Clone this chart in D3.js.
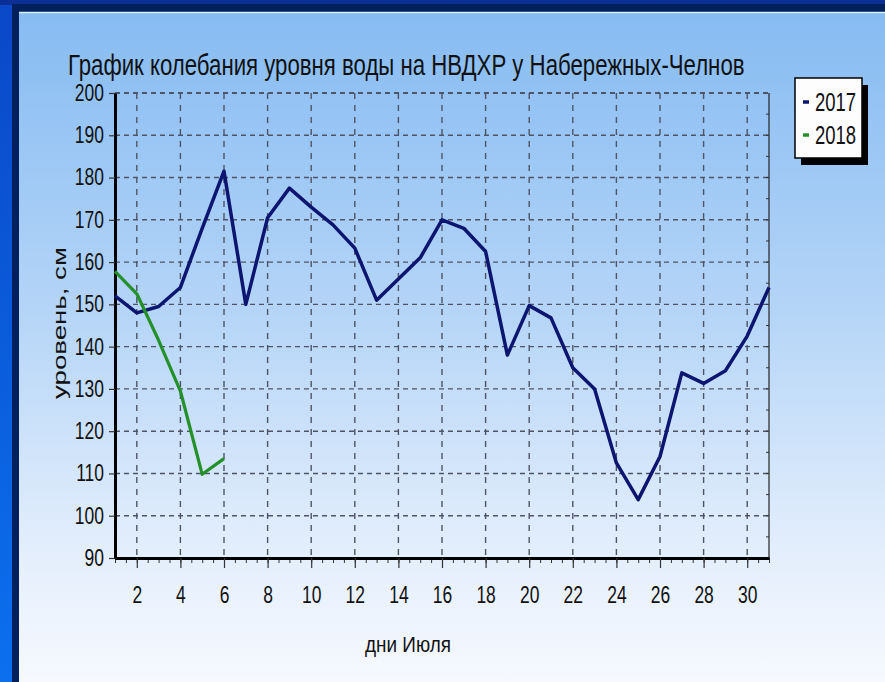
<!DOCTYPE html>
<html>
<head>
<meta charset="utf-8">
<script src="https://cdn.jsdelivr.net/npm/d3@7"></script>
<style>
  body { margin: 0; background: #0a50d2; }
  svg { display: block; }
  text { font-family: 'Liberation Sans', Arial, sans-serif; fill: #111; }
</style>
</head>
<body>
<div id="vis"></div>
<script>
// data
var days = d3.range(1, 32);
var level2017 = [152, 148, 149.5, 154, 168, 181.5, 150, 170.5, 177.5, 173, 168.8, 163.3,
  151, 156, 161, 170, 168, 162.5, 138, 149.7, 146.8, 135, 130, 112.5, 103.8, 114,
  133.8, 131.3, 134.3, 142.5, 154];
var days2018 = [1, 2, 3, 4, 5, 6];
var level2018 = [157.8, 152.5, 141.5, 129.5, 109.8, 113.5];
var seriesNames = ['2017', '2018'];
var yTicks = [90, 100, 110, 120, 130, 140, 150, 160, 170, 180, 190, 200];
var xTicks = [2, 4, 6, 8, 10, 12, 14, 16, 18, 20, 22, 24, 26, 28, 30];

var width = 885;
var height = 682;
var sx = 0.76; // the picture is squeezed sideways, so is its text
var colors = { '2017': '#0c1670', '2018': '#23902a' };

var svg = d3.select('#vis').append('svg')
  .attr('width', width)
  .attr('height', height);

var defs = svg.append('defs');
var grad = defs.append('linearGradient')
  .attr('id', 'panelGrad')
  .attr('x1', 0).attr('y1', 0).attr('x2', 0).attr('y2', 1);
grad.append('stop').attr('offset', '0%').attr('stop-color', '#86bbf2');
grad.append('stop').attr('offset', '45%').attr('stop-color', '#b5d5f7');
grad.append('stop').attr('offset', '80%').attr('stop-color', '#e3eefc');
grad.append('stop').attr('offset', '100%').attr('stop-color', '#f6f9ff');

var side = defs.append('linearGradient')
  .attr('id', 'sideGrad')
  .attr('x1', 0).attr('y1', 0).attr('x2', 0).attr('y2', 1);
side.append('stop').attr('offset', '0%').attr('stop-color', '#0a48c8');
side.append('stop').attr('offset', '100%').attr('stop-color', '#0b70ee');

// slide frame
svg.append('rect').attr('width', width).attr('height', height).attr('fill', 'url(#sideGrad)');
svg.append('rect').attr('x', 0).attr('y', 0).attr('width', width).attr('height', 5).attr('fill', '#0b2f95');
svg.append('rect').attr('x', 12).attr('y', 4).attr('width', width - 12).attr('height', height - 4).attr('fill', '#03205e');
svg.append('rect').attr('x', 19).attr('y', 12).attr('width', width - 19).attr('height', height - 12).attr('fill', 'url(#panelGrad)');
svg.append('line').attr('x1', 19).attr('x2', width).attr('y1', 12.5).attr('y2', 12.5)
  .attr('stroke', '#d8f0ff').attr('stroke-width', 1.5);

var x = d3.scaleLinear().domain([1, 31]).range([115, 769]);
var y = d3.scaleLinear().domain([90, 200]).range([558, 93]);

// squeeze a text sideways so that it spans the given width
function fitWidth(sel, w) {
  sel.each(function () {
    var t = d3.select(this);
    var n = this.getComputedTextLength();
    var k = w / n;
    var base = t.attr('data-base') || '';
    t.attr('transform', base + ' scale(' + k + ',1)');
  });
}

// grid
var grid = svg.append('g').attr('stroke', '#4e5566').attr('stroke-width', 1.4);
grid.selectAll('.hgrid')
  .data(yTicks.filter(function (d) { return d > 90; }))
  .enter().append('line')
  .attr('class', 'hgrid')
  .attr('x1', x(1)).attr('x2', x(31))
  .attr('y1', function (d) { return y(d); })
  .attr('y2', function (d) { return y(d); })
  .attr('stroke-dasharray', '5,4')
  .attr('stroke-width', function (d) { return d === 200 ? 2 : 1.4; });

grid.selectAll('.vgrid')
  .data(xTicks)
  .enter().append('line')
  .attr('class', 'vgrid')
  .attr('x1', function (d) { return x(d); })
  .attr('x2', function (d) { return x(d); })
  .attr('y1', y(200)).attr('y2', y(90))
  .attr('stroke-dasharray', '6,6');

// right edge, thin with small ticks
svg.append('line')
  .attr('x1', x(31)).attr('x2', x(31)).attr('y1', y(200)).attr('y2', y(90))
  .attr('stroke', '#222').attr('stroke-width', 1.2);
svg.append('g').selectAll('line')
  .data(d3.range(95, 200, 5))
  .enter().append('line')
  .attr('x1', x(31) - 3).attr('x2', x(31))
  .attr('y1', function (d) { return y(d); })
  .attr('y2', function (d) { return y(d); })
  .attr('stroke', '#333').attr('stroke-width', 1);

// bottom axis: minor ticks every half day, then the labelled one
svg.append('g')
  .attr('transform', 'translate(0,' + y(90) + ')')
  .call(d3.axisBottom(x).tickValues(d3.range(1, 31.01, 0.5)).tickSize(5).tickFormat(''))
  .call(function (g) {
    g.select('.domain').remove();
    g.selectAll('line').attr('stroke', '#333');
  });

svg.append('g')
  .attr('transform', 'translate(0,' + y(90) + ')')
  .call(d3.axisBottom(x).tickValues(xTicks).tickSize(10).tickSizeOuter(0))
  .call(function (g) {
    g.select('.domain').attr('stroke', '#000').attr('stroke-width', 3);
    g.selectAll('line').attr('stroke', '#333').attr('stroke-width', 1.2);
    g.selectAll('text')
      .attr('y', 29)
      .attr('font-size', 23)
      .attr('fill', '#1a1a1a')
      .attr('transform', 'scale(' + sx + ',1)');
  });

// left axis
svg.append('g')
  .attr('transform', 'translate(' + x(1) + ',0)')
  .call(d3.axisLeft(y).tickValues(yTicks).tickSize(6).tickSizeOuter(0))
  .call(function (g) {
    g.select('.domain').attr('stroke', '#000').attr('stroke-width', 3);
    g.selectAll('line').attr('stroke', '#333').attr('stroke-width', 1.2);
    g.selectAll('text')
      .attr('x', -11 / sx)
      .attr('font-size', 23)
      .attr('fill', '#1a1a1a')
      .attr('transform', 'scale(' + sx + ',1)');
  });

// series
var line = d3.line()
  .x(function (d) { return x(d[0]); })
  .y(function (d) { return y(d[1]); });

svg.append('path')
  .datum(d3.zip(days, level2017))
  .attr('d', line)
  .attr('fill', 'none')
  .attr('stroke', colors['2017'])
  .attr('stroke-width', 3.5)
  .attr('stroke-linejoin', 'round');

svg.append('path')
  .datum(d3.zip(days2018, level2018))
  .attr('d', line)
  .attr('fill', 'none')
  .attr('stroke', colors['2018'])
  .attr('stroke-width', 3.2)
  .attr('stroke-linejoin', 'round');

// titles
svg.append('text')
  .attr('data-base', 'translate(68,75)')
  .attr('font-size', 30)
  .attr('fill', '#1a1a1a')
  .text('График колебания уровня воды на НВДХР у Набережных-Челнов')
  .call(fitWidth, 677);

svg.append('text')
  .attr('data-base', 'translate(66,323) rotate(-90)')
  .attr('text-anchor', 'middle')
  .attr('font-size', 19)
  .attr('fill', '#1a1a1a')
  .text('уровень, см')
  .call(fitWidth, 152);

svg.append('text')
  .attr('data-base', 'translate(365,652)')
  .attr('font-size', 22)
  .attr('fill', '#1a1a1a')
  .text('дни Июля')
  .call(fitWidth, 86);

// legend
var legend = svg.append('g').attr('transform', 'translate(795,78)');
legend.append('rect')
  .attr('x', 6).attr('y', 7).attr('width', 67).attr('height', 80)
  .attr('fill', '#000');
legend.append('rect')
  .attr('width', 67).attr('height', 80)
  .attr('fill', '#fdfdfd').attr('stroke', '#000').attr('stroke-width', 1.5);

var items = legend.selectAll('.item')
  .data(seriesNames)
  .enter().append('g')
  .attr('class', 'item')
  .attr('transform', function (d, i) { return 'translate(0,' + (24 + i * 33) + ')'; });

items.append('line')
  .attr('x1', 8).attr('x2', 14)
  .attr('stroke', function (d) { return colors[d]; })
  .attr('stroke-width', 3.5);

items.append('text')
  .attr('x', 20 / 0.74).attr('dy', '0.36em')
  .attr('font-size', 25)
  .attr('fill', '#1a1a1a')
  .attr('transform', 'scale(0.74,1)')
  .text(function (d) { return d; });
</script>
</body>
</html>
